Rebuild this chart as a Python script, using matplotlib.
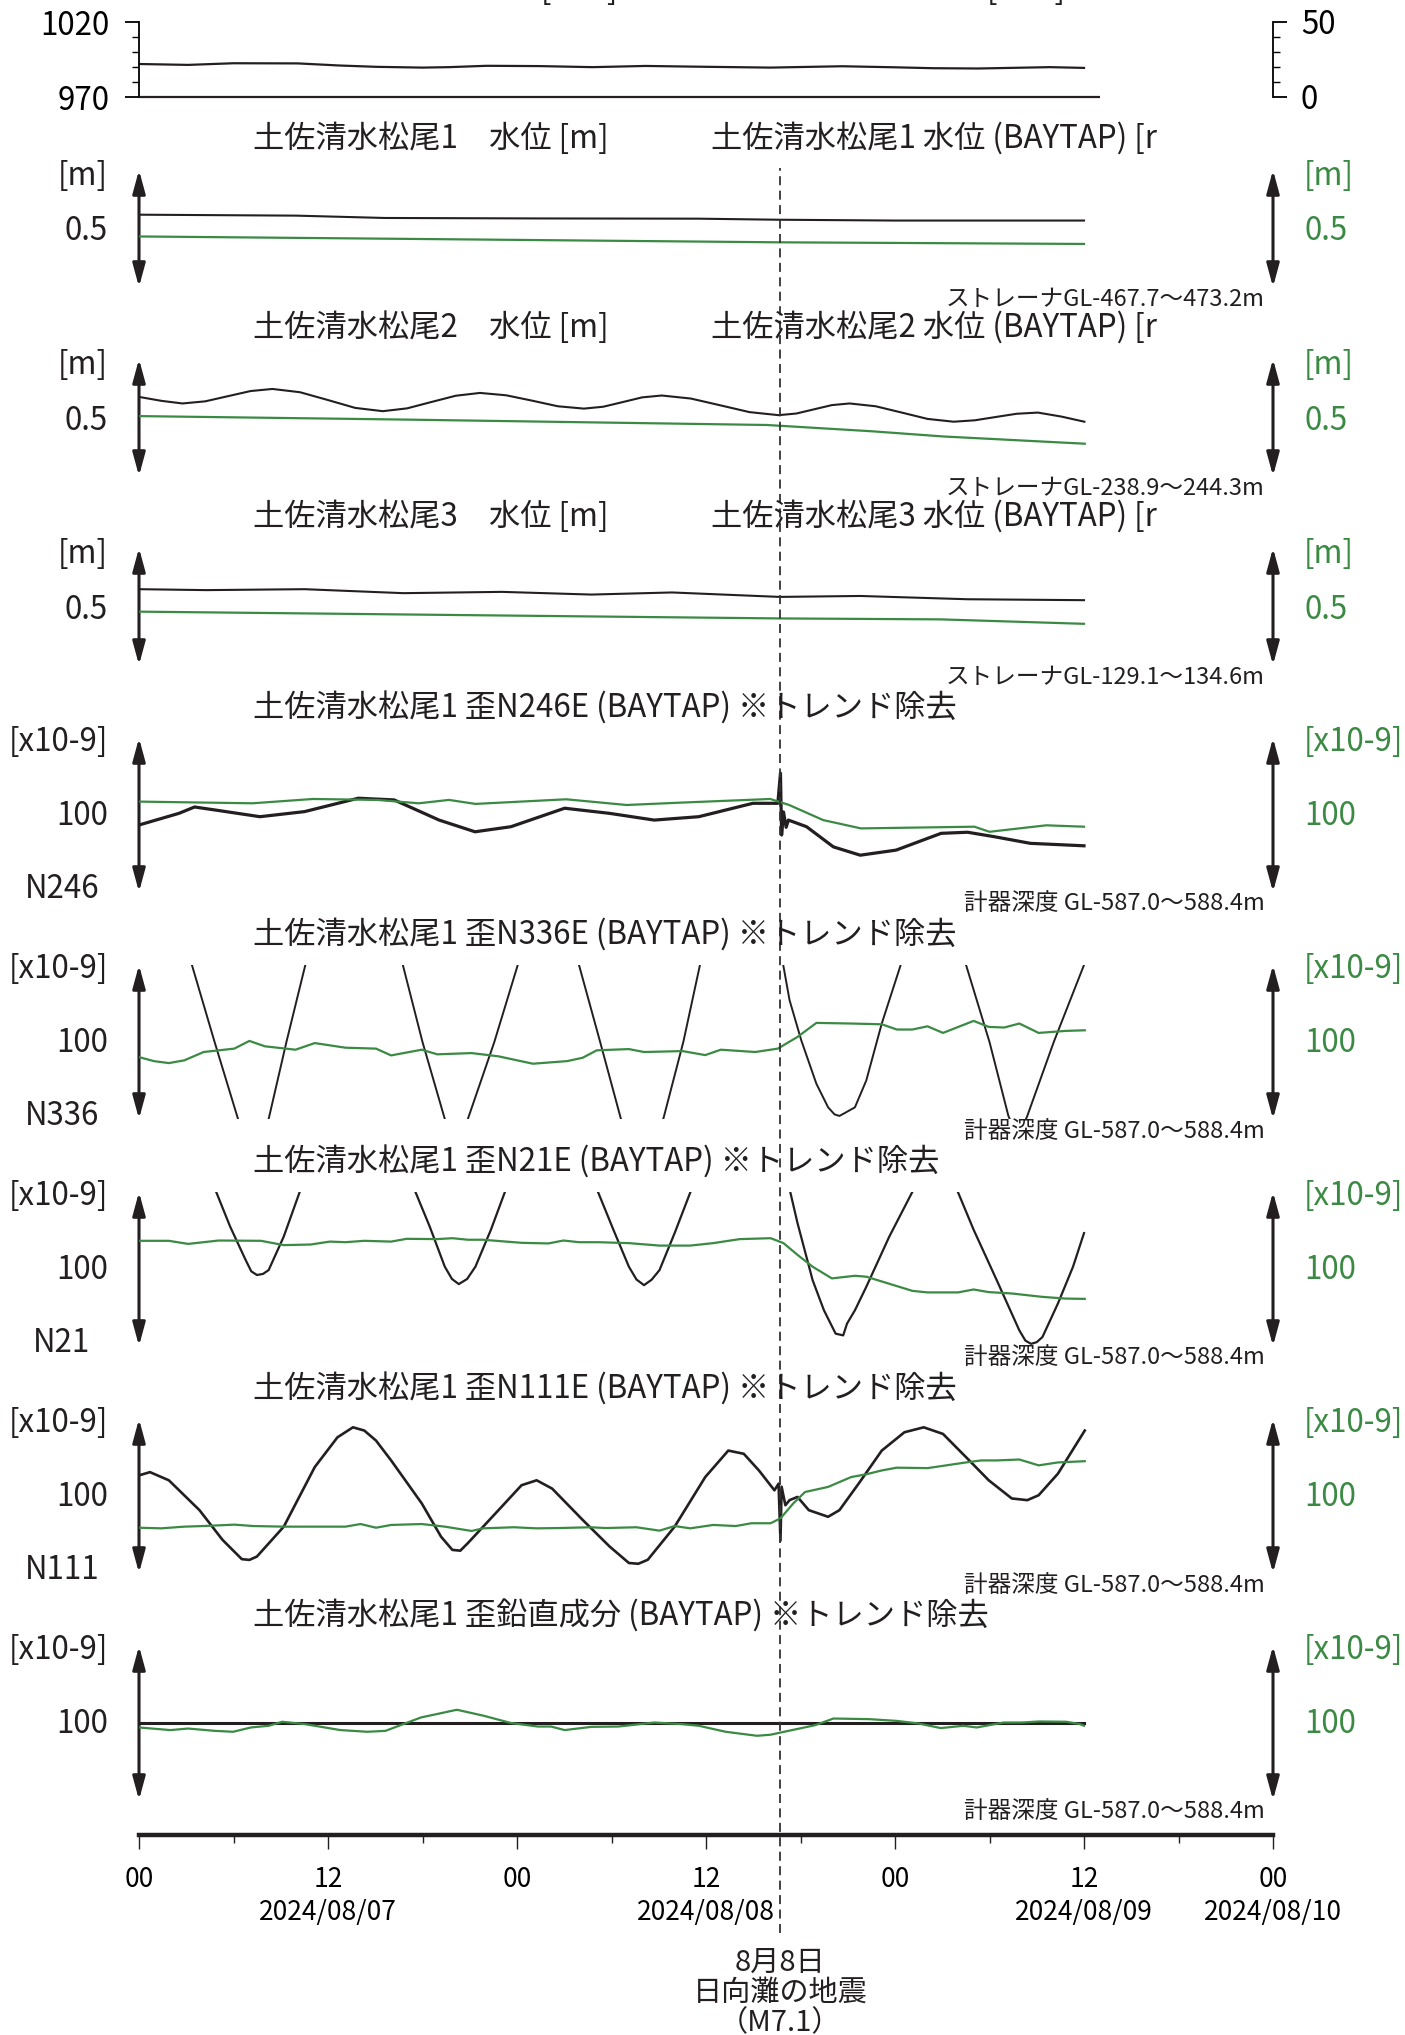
import numpy as np
import matplotlib
matplotlib.use('Agg')
import matplotlib.pyplot as plt

plt.rcParams['font.family'] = ['Noto Sans CJK JP', 'DejaVu Sans']

# figure geometry (pixels)
W, H = 1405, 2035
X0, X1 = 139, 1273          # x pixel of 2024/08/07 00:00 and 2024/08/10 00:00
BLACK = '#231f20'
GREEN = '#3b8a44'
FS = 22.5

# ---------------- data (time in days from 2024/08/07 00:00) ----------------
eq_t = 1.697   # 2024/08/08 16:43

# pressure [hPa] and hourly rain [mm]
p_t = [0, 0.13, 0.25, 0.42, 0.53, 0.63, 0.75, 0.82, 0.92, 1.06, 1.20, 1.34, 1.48,
       1.67, 1.86, 2.00, 2.10, 2.22, 2.41, 2.50]
p_v = [992.0, 991.4, 992.5, 992.4, 991.0, 990.1, 989.6, 989.9, 990.8, 990.6, 989.9,
       990.7, 990.2, 989.6, 990.5, 989.8, 989.2, 989.0, 989.9, 989.4]
rain_mm = [0] * 61

# water level, offsets from panel centre [m]
w1_t = [0, 0.415, 0.65, 1.055, 1.48, 1.69, 2.0, 2.5]
w1_v = [0.059, 0.055, 0.045, 0.043, 0.042, 0.0375, 0.034, 0.034]
w1b_t = [0, 0.82, 1.69, 2.5]
w1b_v = [-0.034, -0.046, -0.059, -0.066]

w2_t = [0, 0.06, 0.115, 0.175, 0.235, 0.295, 0.353, 0.426, 0.499, 0.572, 0.645, 0.709,
        0.773, 0.838, 0.902, 0.971, 1.040, 1.108, 1.177, 1.228, 1.280, 1.331, 1.383,
        1.460, 1.538, 1.615, 1.692, 1.739, 1.786, 1.833, 1.880, 1.949, 2.018, 2.086,
        2.155, 2.211, 2.266, 2.322, 2.378, 2.440, 2.501]
w2_v = [0.088, 0.071, 0.060, 0.069, 0.091, 0.113, 0.122, 0.108, 0.075, 0.041,
        0.027, 0.039, 0.066, 0.093, 0.105, 0.095, 0.072, 0.048, 0.038, 0.046,
        0.066, 0.086, 0.094, 0.081, 0.052, 0.023, 0.010, 0.017, 0.035, 0.053,
        0.060, 0.048, 0.021, -0.006, -0.018, -0.012, 0.002, 0.016, 0.021,
        0.004, -0.018]
w2b_t = [0, 0.708, 1.661, 1.94, 2.127, 2.502]
w2b_v = [0.006, -0.009, -0.032, -0.059, -0.081, -0.112]

w3_t = [0, 0.178, 0.438, 0.699, 0.960, 1.197, 1.41, 1.695, 1.908, 2.192, 2.50]
w3_v = [0.074, 0.070, 0.074, 0.057, 0.0625, 0.051, 0.060, 0.041, 0.045, 0.031, 0.027]
w3b_t = [0, 0.699, 1.695, 2.12, 2.5]
w3b_v = [-0.022, -0.034, -0.051, -0.055, -0.074]

# strain [x10-9], offsets from panel centre
n246_t = [0, 0.106, 0.147, 0.20, 0.32, 0.438, 0.58, 0.675, 0.794, 0.889, 0.984, 1.126,
          1.244, 1.363, 1.481, 1.624, 1.690, 1.697, 1.700, 1.705, 1.712, 1.718, 1.766,
          1.837, 1.908, 2.003, 2.122, 2.192, 2.263, 2.358, 2.50]
n246_v = [-6.5, 1.1, 5.2, 3.3, -1.1, 2.2, 10.9, 9.8, -3.3, -10.9, -7.6, 4.4, 1.1, -3.3,
          -1.1, 7.6, 7.6, 27.2, -13.0, 2.0, -8.0, -3.3, -7.6, -20.7, -26.1, -22.8,
          -11.9, -11.2, -14.1, -18.4, -20.0]
n246b_t = [0, 0.30, 0.46, 0.63, 0.74, 0.82, 0.89, 1.01, 1.13, 1.29, 1.43, 1.67, 1.72,
           1.81, 1.91, 2.21, 2.25, 2.40, 2.50]
n246b_v = [8.7, 7.6, 10.4, 9.8, 7.6, 9.8, 7.2, 8.7, 10.2, 6.5, 8.0, 10.4, 6.5, -3.3,
           -8.7, -7.6, -10.9, -6.7, -7.6]

n336_t = [0, 0.14, 0.20, 0.262, 0.30, 0.343, 0.39, 0.44, 0.57, 0.698, 0.75, 0.809,
          0.84, 0.870, 0.94, 1.002, 1.08, 1.164, 1.22, 1.275, 1.33, 1.387, 1.44, 1.484,
          1.59, 1.694, 1.697, 1.721, 1.752, 1.792, 1.823, 1.840, 1.853, 1.868, 1.894,
          1.924, 1.965, 2.015, 2.10, 2.188, 2.25, 2.30, 2.325, 2.35, 2.42, 2.50]
n336_v = [160, 50, 0, -50, -65, -50, 0, 50, 200, 50, 0, -50, -62, -50, 0, 50, 150, 50,
          0, -50, -65, -50, 0, 50, 180, 120, 60, 27.2, 1.1, -27.1, -42.4, -47, -48,
          -46, -42.4, -25, 12, 50, 150, 50, 0, -48, -62, -48, 0, 50]
n336b_t = [0, 0.039, 0.079, 0.120, 0.171, 0.252, 0.292, 0.333, 0.414, 0.465, 0.546,
           0.627, 0.667, 0.748, 0.789, 0.880, 0.951, 1.042, 1.133, 1.174, 1.211, 1.296,
           1.336, 1.438, 1.498, 1.539, 1.630, 1.690, 1.742, 1.792, 1.884, 1.965, 2.005,
           2.046, 2.086, 2.127, 2.208, 2.248, 2.289, 2.329, 2.380, 2.451, 2.502]
n336b_v = [-9.8, -12.4, -13.7, -11.9, -6.5, -4.3, 0.7, -2.8, -5.0, -0.7, -3.7, -4.3,
           -8.7, -5.0, -8.0, -7.2, -9.3, -14.1, -12.4, -10.2, -5.4, -4.6, -6.5, -5.9,
           -8.5, -5.0, -6.5, -4.3, 3.3, 12.4, 12.0, 11.5, 8.1, 8.1, 10.2, 5.9, 13.7, 9.8,
           9.4, 12.0, 5.9, 7.2, 7.6]

n21_t = [0, 0.10, 0.201, 0.241, 0.282, 0.297, 0.312, 0.328, 0.343, 0.383, 0.428, 0.58,
         0.728, 0.769, 0.809, 0.828, 0.846, 0.868, 0.890, 0.931, 0.971, 1.09, 1.211,
         1.255, 1.296, 1.316, 1.336, 1.356, 1.377, 1.417, 1.462, 1.59, 1.697, 1.721,
         1.742, 1.782, 1.812, 1.843, 1.863, 1.873, 1.894, 1.924, 1.985, 2.050, 2.11,
         2.163, 2.208, 2.269, 2.329, 2.345, 2.360, 2.375, 2.390, 2.431, 2.471, 2.50]
n21_v = [150, 95, 52, 27.6, 5.9, -1.5, -3.9, -3.2, -0.7, 21.1, 52, 150, 52, 27.6, 1.5,
         -6.5, -9.8, -6.5, 1.5, 25.5, 52, 150, 52, 25.5, 1.5, -6.8, -10.5, -7.0, -0.7,
         23.3, 52, 150, 120, 52, 29.9, -7.2, -26.8, -42.0, -43.1, -35.5, -26.8, -11.6,
         21.1, 52, 150, 52, 25.5, -7.2, -39.9, -46.5, -48.6, -47.5, -44.2, -22.4, 1.5,
         23.3]
n21b_t = [0, 0.079, 0.130, 0.211, 0.323, 0.383, 0.454, 0.505, 0.546, 0.596, 0.667,
          0.708, 0.789, 0.829, 0.870, 0.910, 1.012, 1.083, 1.123, 1.164, 1.215, 1.296,
          1.377, 1.458, 1.519, 1.589, 1.671, 1.705, 1.742, 1.782, 1.833, 1.894, 1.924,
          2.046, 2.086, 2.167, 2.208, 2.248, 2.309, 2.390, 2.451, 2.502]
n21b_v = [18.3, 18.3, 16.3, 18.5, 18.3, 15.5, 15.9, 17.8, 17.4, 18.3, 17.8, 19.6, 19.4,
          20.0, 19.0, 19.0, 17.0, 16.6, 18.5, 17.4, 17.4, 16.8, 15.2, 15.2, 16.8, 19.4,
          20.0, 16.8, 9.2, 1.5, -6.1, -4.4, -5.0, -14.2, -15.2, -15.2, -13.3, -15.0,
          -15.9, -18.1, -19.2, -19.4]

n111_t = [0, 0.029, 0.079, 0.160, 0.221, 0.272, 0.292, 0.312, 0.383, 0.465, 0.525,
          0.566, 0.596, 0.627, 0.667, 0.748, 0.799, 0.829, 0.850, 0.870, 0.951, 1.012,
          1.052, 1.093, 1.174, 1.245, 1.296, 1.321, 1.346, 1.417, 1.498, 1.559, 1.600,
          1.640, 1.681, 1.692, 1.697, 1.700, 1.710, 1.721, 1.742, 1.772, 1.823, 1.853,
          1.904, 1.965, 2.025, 2.076, 2.127, 2.188, 2.248, 2.309, 2.350, 2.380, 2.431,
          2.502]
n111_v = [13.4, 15.5, 10.2, -9.2, -28.5, -41.0, -41.5, -39.3, -19.9, 18.8, 38.1, 44.6,
          42.5, 36.0, 23.1, -4.8, -26.4, -35.0, -35.5, -30.6, -9.2, 7.0, 10.2, 4.8,
          -15.6, -32.8, -43.5, -44.0, -41.4, -19.9, 12.3, 29.5, 27.4, 16.6, 3.7, 8.0,
          -29.0, 6.0, -6.0, -2.7, -0.6, -9.2, -13.5, -9.2, 8.1, 29.5, 41.4, 44.6, 40.3,
          25.2, 10.2, -1.6, -2.7, 0.5, 14.5, 42.5]
n111b_t = [0, 0.059, 0.120, 0.171, 0.252, 0.302, 0.383, 0.546, 0.586, 0.627, 0.667,
           0.748, 0.809, 0.880, 0.910, 0.992, 1.052, 1.113, 1.194, 1.235, 1.316, 1.377,
           1.417, 1.458, 1.519, 1.579, 1.620, 1.671, 1.697, 1.731, 1.762, 1.823, 1.884,
           1.924, 1.965, 2.005, 2.086, 2.188, 2.228, 2.269, 2.329, 2.380, 2.431, 2.502]
n111b_v = [-20.6, -21.0, -19.9, -19.5, -18.6, -19.5, -19.9, -19.9, -18.2, -20.6, -18.8,
           -18.2, -19.9, -22.7, -21.0, -20.3, -21.0, -20.8, -20.3, -20.8, -20.3, -22.5,
           -19.5, -21.0, -18.8, -19.5, -17.7, -17.7, -14.5, -4.8, 2.6, 5.9, 12.3, 14.1,
           16.6, 18.4, 18.1, 21.8, 23.1, 23.1, 23.7, 19.9, 21.8, 22.6]

nv_t = [0, 2.5]
nv_v = [0, 0]
nvb_t = [0, 0.083, 0.130, 0.201, 0.249, 0.296, 0.343, 0.379, 0.438, 0.533, 0.604, 0.652,
         0.746, 0.841, 0.912, 0.984, 1.055, 1.090, 1.126, 1.197, 1.268, 1.363, 1.434,
         1.481, 1.552, 1.635, 1.671, 1.718, 1.789, 1.837, 1.932, 2.003, 2.062, 2.121,
         2.181, 2.216, 2.287, 2.335, 2.382, 2.453, 2.489, 2.50]
nvb_v = [-2.9, -4.6, -3.6, -5.1, -5.7, -2.9, -1.8, 0.8, -0.7, -4.6, -5.7, -5.1, 3.6, 8.6,
         4.7, 0.0, -2.3, -2.3, -4.6, -2.5, -2.3, 0.3, -0.7, -1.8, -5.7, -8.3, -7.6, -5.1,
         -1.4, 2.9, 2.5, 1.4, -0.3, -3.3, -1.8, -2.9, 0.3, 0.3, 1.0, 0.8, -0.7, -1.8]

tick_pos = [0, 0.5, 1.0, 1.5, 2.0, 2.5, 3.0]
tick_lab = ['00', '12\n2024/08/07', '00', '12\n2024/08/08', '00', '12\n2024/08/09',
            '00\n2024/08/10']

fig = plt.figure(figsize=(W / 100, H / 100), dpi=100)


def rect(top, bottom, x0=X0, x1=X1):
    return [x0 / W, 1 - bottom / H, (x1 - x0) / W, (bottom - top) / H]


def ftext(x, y, s, **kw):
    kw.setdefault('va', 'center')
    fig.text(x / W, 1 - y / H, s, **kw)


def panel(top, bottom, tk, vk, tg, vg, ylim, lw_k=1.6):
    ax = fig.add_axes(rect(top, bottom))
    ax.set_xlim(0, 3)
    ax.set_ylim(*ylim)
    ax.axis('off')
    ax.plot(tk, vk, color=BLACK, lw=lw_k)
    ax2 = ax.twinx()
    ax2.set_xlim(0, 3)
    ax2.set_ylim(*ylim)
    ax2.axis('off')
    ax2.plot(tg, vg, color=GREEN, lw=1.6)
    for xf in (0, 1):
        ax.annotate('', xy=(xf, 1), xytext=(xf, 0), xycoords='axes fraction',
                    arrowprops=dict(arrowstyle='<|-|>,head_length=1.4,head_width=0.38',
                                    lw=2.2, color=BLACK, shrinkA=0, shrinkB=0))
    return ax


# ---------------- pressure / rain panel ----------------
axp = fig.add_axes(rect(22, 97))
axp.set_xlim(0, 3)
axp.set_ylim(970, 1020)
axp.plot(p_t, p_v, color=BLACK, lw=1.6)
axp.set_yticks([970, 1020])
axp.set_yticks([980, 990, 1000, 1010], minor=True)
axp.set_xticks([])
for s in ('top', 'bottom', 'right'):
    axp.spines[s].set_visible(False)
axp.spines['left'].set_linewidth(1.3)
axp.tick_params(axis='y', which='major', length=10, width=1.3, pad=11, labelsize=FS)
axp.tick_params(axis='y', which='minor', length=5, width=1.0)
axp.patch.set_alpha(0)

axr = axp.twinx()
axr.set_ylim(0, 50)
axr.bar(np.arange(len(rain_mm)) / 24, rain_mm, width=1 / 24, align='edge',
        facecolor='none', edgecolor=BLACK, linewidth=1.6, clip_on=False)
axr.set_yticks([0, 50])
axr.set_yticks([10, 20, 30, 40], minor=True)
for s in ('top', 'bottom', 'left'):
    axr.spines[s].set_visible(False)
axr.spines['right'].set_linewidth(1.3)
axr.tick_params(axis='y', which='major', length=10, width=1.3, pad=10, labelsize=FS)
axr.tick_params(axis='y', which='minor', length=5, width=1.0)

# titles of the top panel, cut off by the upper edge as in the original image
ftext(618, -1, '[hPa]', ha='right', va='baseline', fontsize=FS, color=BLACK)
ftext(1066, -1, '[mm]', ha='right', va='baseline', fontsize=FS, color=BLACK)

# ---------------- water level panels ----------------
wl = [
    (170, 287, w1_t, w1_v, w1b_t, w1b_v, '1', 'ストレーナGL-467.7～473.2m'),
    (359, 476, w2_t, w2_v, w2b_t, w2b_v, '2', 'ストレーナGL-238.9～244.3m'),
    (548, 665, w3_t, w3_v, w3b_t, w3b_v, '3', 'ストレーナGL-129.1～134.6m'),
]
for top, bot, tk, vk, tg, vg, no, note in wl:
    panel(top, bot, tk, vk, tg, vg, (-0.25, 0.25), lw_k=1.5)
    mid = (top + bot) / 2
    ftext(253, top - 31, f'土佐清水松尾{no}　水位 [m]', fontsize=FS, color=BLACK)
    ftext(711, top - 31, f'土佐清水松尾{no} 水位 (BAYTAP) [r', fontsize=FS, color=BLACK)
    ftext(108, top + 6, '[m]', ha='right', fontsize=FS, color=BLACK)
    ftext(108, mid + 3, '0.5', ha='right', fontsize=FS, color=BLACK)
    ftext(1304, top + 6, '[m]', ha='left', fontsize=FS, color=GREEN)
    ftext(1304, mid + 3, '0.5', ha='left', fontsize=FS, color=GREEN)
    ftext(1265, bot + 13, note, ha='right', fontsize=17, color=BLACK)

# ---------------- strain panels ----------------
strain = [
    ('N246E', 'N246', n246_t, n246_v, n246b_t, n246b_v, 2.3),
    ('N336E', 'N336', n336_t, n336_v, n336b_t, n336b_v, 1.4),
    ('N21E', 'N21', n21_t, n21_v, n21b_t, n21b_v, 1.6),
    ('N111E', 'N111', n111_t, n111_v, n111b_t, n111b_v, 1.9),
    ('鉛直成分', '', nv_t, nv_v, nvb_t, nvb_v, 2.2),
]
for i, (comp, short, tk, vk, tg, vg, lw) in enumerate(strain):
    top = 738 + 227 * i
    bot = top + 154
    mid = (top + bot) / 2
    panel(top, bot, tk, vk, tg, vg, (-50, 50), lw_k=lw)
    ftext(253, top - 30, f'土佐清水松尾1 歪{comp} (BAYTAP) ※トレンド除去', fontsize=FS,
          color=BLACK)
    ftext(108, top + 4, '[x10-9]', ha='right', fontsize=FS, color=BLACK)
    ftext(108, mid + 1, '100', ha='right', fontsize=FS, color=BLACK)
    if short:
        ftext(62, bot - 3, short, ha='center', fontsize=FS, color=BLACK)
    ftext(1304, top + 4, '[x10-9]', ha='left', fontsize=FS, color=GREEN)
    ftext(1304, mid + 1, '100', ha='left', fontsize=FS, color=GREEN)
    ftext(1265, bot + 12, '計器深度 GL-587.0～588.4m', ha='right', fontsize=17, color=BLACK)

# ---------------- time axis ----------------
axt = fig.add_axes(rect(1834, 1835))
axt.set_xlim(0, 3)
axt.set_yticks([])
for s in ('top', 'left', 'right'):
    axt.spines[s].set_visible(False)
axt.spines['bottom'].set_linewidth(3.2)
axt.spines['bottom'].set_color(BLACK)
axt.patch.set_alpha(0)
axt.set_xticks(tick_pos)
axt.set_xticklabels(tick_lab, fontsize=19, linespacing=1.3)
axt.set_xticks(np.arange(0.25, 3, 0.5), minor=True)
axt.tick_params(axis='x', which='major', length=10, width=1.0, pad=12, color=BLACK)
axt.tick_params(axis='x', which='minor', length=5.5, width=1.0, color=BLACK)

axt.annotate('8月8日\n日向灘の地震\n（M7.1）', xy=(eq_t, 1 - 1948 / H),
             xycoords=('data', 'figure fraction'), ha='center', va='top',
             fontsize=21, linespacing=1.0, color=BLACK, annotation_clip=False)

# earthquake dashed line over all panels
axd = fig.add_axes(rect(168, 1933))
axd.set_xlim(0, 3)
axd.set_ylim(0, 1)
axd.axis('off')
axd.axvline(eq_t, color='#333333', lw=1.3, ls=(0, (5, 3)))

fig.savefig('out.png', dpi=100)
